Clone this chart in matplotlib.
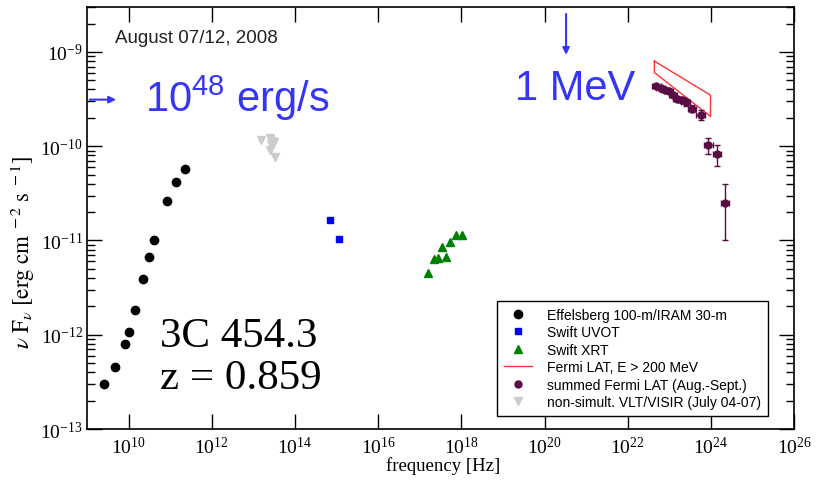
import numpy as np
import matplotlib
matplotlib.use("Agg")
import matplotlib.pyplot as plt
from matplotlib.ticker import (LogLocator, FixedLocator, NullLocator, NullFormatter,
                               LogFormatterMathtext)

plt.rcParams["font.family"] = ["Liberation Serif", "DejaVu Serif"]
plt.rcParams["mathtext.fontset"] = "stix"
plt.rcParams["axes.unicode_minus"] = False

# Effelsberg 100-m / IRAM 30-m radio points
radio_nu = [10**9.42, 10**9.68, 10**9.91, 10**10.02, 10**10.16, 10**10.35,
            10**10.50, 10**10.62, 10**10.93, 10**11.15, 10**11.36]
radio_f = [3.0e-13, 4.6e-13, 8.0e-13, 1.08e-12, 1.82e-12, 3.9e-12,
           6.6e-12, 1.0e-11, 2.6e-11, 4.2e-11, 5.7e-11]

# Swift UVOT
uvot_nu = [10**14.83, 10**15.05]
uvot_f = [1.66e-11, 1.04e-11]

# Swift XRT
xrt_nu = [10**17.20, 10**17.35, 10**17.45, 10**17.62, 10**17.53,
          10**17.73, 10**17.86, 10**18.01]
xrt_f = [4.5e-12, 6.3e-12, 6.5e-12, 6.6e-12, 8.5e-12, 9.7e-12, 1.15e-11, 1.14e-11]

# VLT/VISIR (non-simultaneous)
visir_nu = [10**13.18, 10**13.40, 10**13.45, 10**13.50, 10**13.43, 10**13.40, 10**13.52]
visir_f = [1.16e-10, 1.22e-10, 1.14e-10, 1.12e-10, 1.05e-10, 9.2e-11, 7.6e-11]

# summed Fermi LAT spectrum
lat_nu = [10**22.69, 10**22.79, 10**22.89, 10**23.00, 10**23.09, 10**23.19,
          10**23.30, 10**23.39, 10**23.55, 10**23.75, 10**23.94, 10**24.14, 10**24.34]
lat_f = [4.37e-10, 4.1e-10, 3.96e-10, 3.87e-10, 3.47e-10, 3.2e-10,
         3.1e-10, 2.95e-10, 2.51e-10, 2.13e-10, 1.03e-10, 8.3e-11, 2.5e-11]
lat_hi = [4.6e-10, 4.3e-10, 4.15e-10, 4.05e-10, 3.65e-10, 3.4e-10,
          3.3e-10, 3.2e-10, 2.75e-10, 2.4e-10, 1.23e-10, 1.04e-10, 4.0e-11]
lat_lo = [4.15e-10, 3.9e-10, 3.77e-10, 3.69e-10, 3.3e-10, 3.0e-10,
          2.9e-10, 2.7e-10, 2.28e-10, 1.88e-10, 8.2e-11, 6.1e-11, 1.0e-11]
lat_dex = 0.1

# Fermi LAT E > 200 MeV bow-tie
bow_nu = [10**22.64, 10**23.99, 10**23.99, 10**22.64, 10**22.64]
bow_f = [8.0e-10, 3.48e-10, 2.07e-10, 6.05e-10, 8.0e-10]

# frequency decades carrying tick labels
x_decades = [10, 12, 14, 16, 18, 20, 22, 24, 26]

fig = plt.figure(figsize=(8.17, 4.85), dpi=100)
ax = fig.add_axes([0.1065, 0.1134, 0.8655, 0.8701])
ax.set_xscale("log")
ax.set_yscale("log")
ax.set_xlim(1e9, 1e26)
ax.set_ylim(1e-13, 3e-9)

ax.plot(radio_nu, radio_f, "o", color="black", ms=6, ls="none",
        label="Effelsberg 100-m/IRAM 30-m")
ax.plot(uvot_nu, uvot_f, "s", color="#0000ff", ms=5, ls="none", label="Swift UVOT")
ax.plot(xrt_nu, xrt_f, "^", color="#008000", ms=6, ls="none", label="Swift XRT")
ax.plot(bow_nu, bow_f, "-", color="#ff3333", lw=1, label="Fermi LAT, E > 200 MeV")

lat_nu_a = np.array(lat_nu)
lat_f_a = np.array(lat_f)
yerr = [lat_f_a - np.array(lat_lo), np.array(lat_hi) - lat_f_a]
xerr = [lat_nu_a - lat_nu_a / 10**lat_dex, lat_nu_a * 10**lat_dex - lat_nu_a]
ax.errorbar(lat_nu, lat_f, yerr=yerr, xerr=xerr, fmt="none", ecolor="#5a0a44",
            elinewidth=1, capsize=2.5)
ax.plot(lat_nu, lat_f, "o", color="#5a0a44", ms=5, ls="none",
        label="summed Fermi LAT (Aug.-Sept.)")
ax.plot(visir_nu, visir_f, "v", color="#cccccc", ms=6, ls="none",
        label="non-simult. VLT/VISIR (July 04-07)")

ax.xaxis.set_major_locator(FixedLocator([10.0**d for d in x_decades]))
ax.xaxis.set_minor_locator(NullLocator())
ax.xaxis.set_major_formatter(LogFormatterMathtext())
ax.yaxis.set_major_locator(LogLocator(base=10))
ax.yaxis.set_minor_locator(LogLocator(base=10, subs=np.arange(2, 10)))
ax.yaxis.set_minor_formatter(NullFormatter())
ax.tick_params(which="both", direction="in", top=True, right=True, labelsize=14)
ax.tick_params(which="major", length=11, width=1)
ax.tick_params(which="minor", length=6, width=1)
ax.tick_params(axis="x", pad=5)
ax.tick_params(axis="y", pad=3)
for sp in ax.spines.values():
    sp.set_linewidth(1.2)

ax.set_xlabel("frequency [Hz]", fontsize=13.5)
ax.set_ylabel(r"$\nu\ \mathrm{F}_\nu\ [\mathrm{erg\ cm}^{\ -2}\ \mathrm{s}^{\ -1}]$",
              fontsize=16.5)
ax.xaxis.set_label_coords(0.504, -0.064)
ax.yaxis.set_label_coords(-0.071, 0.42)

leg = ax.legend(loc="lower right", bbox_to_anchor=(0.963, 0.031), borderaxespad=0,
                prop={"family": "Liberation Sans", "size": 10}, frameon=True,
                fancybox=False, edgecolor="black", framealpha=1, handlelength=2.0,
                handletextpad=1.1, labelspacing=0.25, borderpad=0.5, numpoints=1)
leg.get_frame().set_linewidth(1)

blue = "#3535f5"
ax.text(0.0396, 0.917, "August 07/12, 2008", transform=ax.transAxes,
        family="Liberation Sans", fontsize=13.5, va="baseline", color="#222222")
ax.text(0.082, 0.7536, r"$\mathdefault{10^{48}}$ erg/s", transform=ax.transAxes,
        family="Liberation Sans", fontsize=30, va="baseline", color=blue)
ax.text(0.605, 0.782, "1 MeV", transform=ax.transAxes,
        family="Liberation Sans", fontsize=30, va="baseline", color=blue)
ax.text(0.103, 0.197, "3C 454.3", transform=ax.transAxes,
        family="Liberation Serif", fontsize=31, va="baseline", color="black")
ax.text(0.103, 0.097, "z = 0.859", transform=ax.transAxes,
        family="Liberation Serif", fontsize=31, va="baseline", color="black")

# luminosity and energy markers
ax.annotate("", xy=(0.045, 0.7805), xytext=(0.0, 0.7805), xycoords="axes fraction",
            arrowprops=dict(arrowstyle="-|>", color=blue, lw=1.5, mutation_scale=10))
ax.annotate("", xy=(0.6775, 0.88), xytext=(0.6775, 0.99), xycoords="axes fraction",
            arrowprops=dict(arrowstyle="-|>", color=blue, lw=1.5, mutation_scale=10))

fig.savefig("out.png", dpi=100)
